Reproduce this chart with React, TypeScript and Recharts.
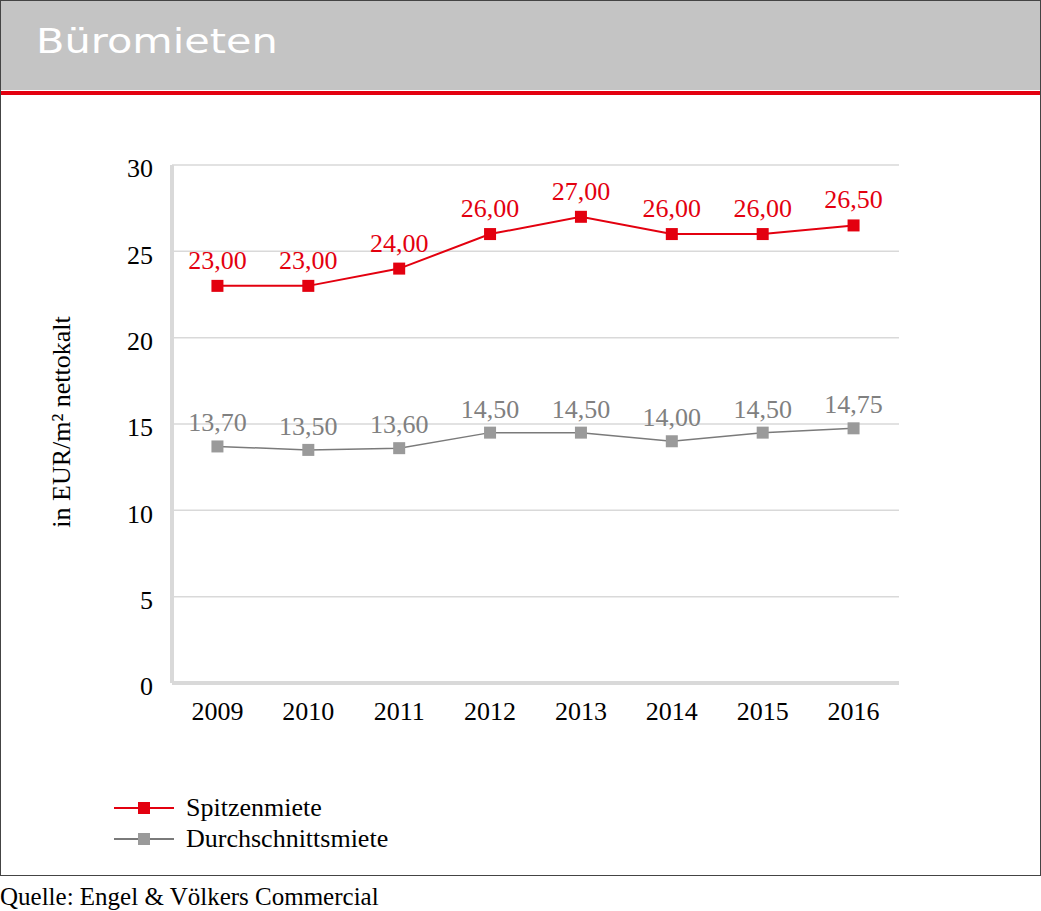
import { LineChart, Line, XAxis, YAxis, CartesianGrid, LabelList, Legend } from "recharts"

const years = ["2009", "2010", "2011", "2012", "2013", "2014", "2015", "2016"]
const spitzenmiete = [23, 23, 24, 26, 27, 26, 26, 26.5]
const durchschnittsmiete = [13.7, 13.5, 13.6, 14.5, 14.5, 14.0, 14.5, 14.75]
const yTicks = [0, 5, 10, 15, 20, 25, 30]

const RED = "#e3000f"
const GRAY_LINE = "#7a7a7a"
const GRAY_MARK = "#9a9a9a"
const GRAY_TEXT = "#808080"
const FONT = "'Liberation Serif', 'Times New Roman', serif"

const data = years.map((year, i) => ({
  year,
  spitzen: spitzenmiete[i],
  durchschnitt: durchschnittsmiete[i],
}))

const fmt = (v: any) => Number(v).toFixed(2).replace(".", ",")

const squareDot = (fill: string) => (props: any) => {
  const { cx, cy, index } = props
  return <rect key={`d-${index}`} x={cx - 6} y={cy - 6} width={12} height={12} fill={fill} />
}

const LEGEND = [
  { name: "Spitzenmiete", line: RED, mark: RED },
  { name: "Durchschnittsmiete", line: GRAY_LINE, mark: GRAY_MARK },
]

function LegendContent() {
  return (
    <div style={{ fontFamily: FONT, fontSize: 26, color: "#000" }}>
      {LEGEND.map((item) => (
        <div key={item.name} style={{ display: "flex", alignItems: "center", height: 31 }}>
          <svg width={60} height={14} style={{ marginRight: 12 }}>
            <line x1={0} y1={7} x2={60} y2={7} stroke={item.line} strokeWidth={2} />
            <rect x={24} y={1} width={12} height={12} fill={item.mark} />
          </svg>
          <span>{item.name}</span>
        </div>
      ))}
    </div>
  )
}

export default function App() {
  return (
    <div style={{ position: "absolute", left: 0, top: 0, width: 1041, height: 911, background: "#fff" }}>
      <div
        style={{
          position: "absolute",
          left: 0,
          top: 0,
          width: 1041,
          height: 876,
          border: "1px solid #444",
          boxSizing: "border-box",
        }}
      />
      <div style={{ position: "absolute", left: 1, top: 1, width: 1039, height: 89, background: "#c4c4c4" }} />
      <div style={{ position: "absolute", left: 1, top: 91, width: 1039, height: 4, background: RED }} />
      <div
        style={{
          position: "absolute",
          left: 36,
          top: 23,
          fontFamily: "'DejaVu Sans', sans-serif",
          fontSize: 34,
          lineHeight: "36px",
          color: "#fff",
          transform: "scaleX(1.22)",
          transformOrigin: "left center",
          whiteSpace: "nowrap",
        }}
      >
        Büromieten
      </div>
      <div
        style={{
          position: "absolute",
          left: 0,
          top: 882,
          fontFamily: FONT,
          fontSize: 25,
          lineHeight: "30px",
          color: "#000",
          whiteSpace: "nowrap",
        }}
      >
        Quelle: Engel &amp; Völkers Commercial
      </div>
      <div style={{ position: "absolute", left: 0, top: 0 }}>
        <LineChart
          width={1041}
          height={911}
          data={data}
          margin={{ top: 165, right: 142, bottom: 188, left: 112 }}
        >
          <CartesianGrid horizontal vertical={false} stroke="#d9d9d9" strokeWidth={1.5} />
          <XAxis
            dataKey="year"
            scale="band"
            height={40}
            axisLine={{ stroke: "#d9d9d9", strokeWidth: 4 }}
            tickLine={false}
            tickSize={0}
            tickMargin={19}
            tick={{ fill: "#000", fontSize: 26, fontFamily: FONT }}
          />
          <YAxis
            width={60}
            domain={[0, 30]}
            ticks={yTicks}
            allowDataOverflow
            axisLine={{ stroke: "#d9d9d9", strokeWidth: 4 }}
            tickLine={false}
            tickSize={0}
            tickMargin={19}
            tick={{ fill: "#000", fontSize: 26, fontFamily: FONT, dy: 3 }}
            label={{
              value: "in EUR/m² nettokalt",
              angle: -90,
              position: "center",
              dx: -81,
              dy: -2,
              style: { fill: "#000", fontSize: 26, fontFamily: FONT },
            }}
          />
          <Legend
            layout="vertical"
            align="center"
            verticalAlign="middle"
            wrapperStyle={{ left: 114, top: 792, width: 340 }}
            content={() => <LegendContent />}
          />
          <Line
            dataKey="spitzen"
            name="Spitzenmiete"
            stroke={RED}
            strokeWidth={2}
            dot={squareDot(RED)}
            activeDot={false}
            isAnimationActive={false}
          >
            <LabelList
              dataKey="spitzen"
              position="top"
              offset={17}
              formatter={fmt}
              style={{ fill: RED, fontSize: 26, fontFamily: FONT }}
            />
          </Line>
          <Line
            dataKey="durchschnitt"
            name="Durchschnittsmiete"
            stroke={GRAY_LINE}
            strokeWidth={1.5}
            dot={squareDot(GRAY_MARK)}
            activeDot={false}
            isAnimationActive={false}
          >
            <LabelList
              dataKey="durchschnitt"
              position="top"
              offset={15}
              formatter={fmt}
              style={{ fill: GRAY_TEXT, fontSize: 26, fontFamily: FONT }}
            />
          </Line>
        </LineChart>
      </div>
    </div>
  )
}
